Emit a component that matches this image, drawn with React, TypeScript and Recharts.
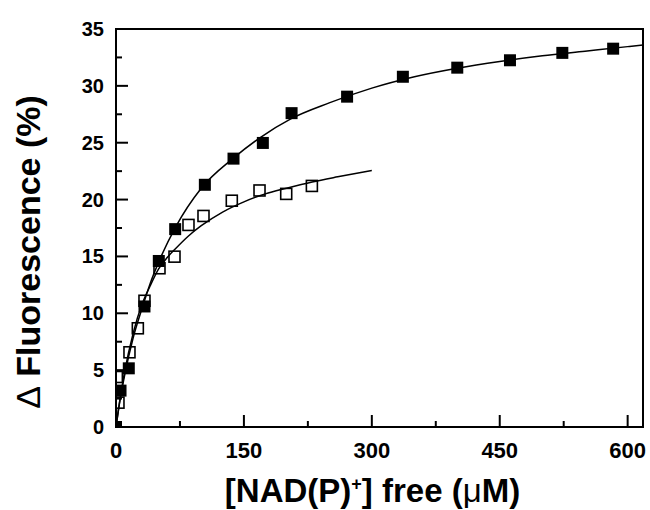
import React from 'react';
import { ComposedChart, Line, Scatter, XAxis, YAxis, ReferenceArea } from 'recharts';

// axis ticks
const xMajorTicks = [0, 150, 300, 450, 600];
const xMinorTicks = [75, 225, 375, 525];
const yMajorTicks = [0, 5, 10, 15, 20, 25, 30, 35];
const yMinorTicks = [2.5, 7.5, 12.5, 17.5, 22.5, 27.5, 32.5];

// filled squares (measured)
const filledX = [0, 5.3, 15, 33.4, 50.2, 69.4, 104.2, 137.8, 172.2, 205.9, 271, 336.4, 400.2, 462, 523.4, 583];
const filledY = [0, 3.2, 5.16, 10.6, 14.6, 17.4, 21.3, 23.6, 24.98, 27.6, 29.05, 30.8, 31.6, 32.25, 32.9, 33.27];

// open squares (measured)
const openX = [1, 2.9, 15.8, 25.6, 33.4, 51, 68.6, 85, 102.6, 135.8, 168.3, 199.6, 229.7];
const openY = [4.4, 2.14, 6.57, 8.68, 11.1, 13.96, 14.98, 17.77, 18.56, 19.9, 20.8, 20.5, 21.2];

// fitted curves
const filledFitX = [0, 5, 10, 20, 30, 40, 50, 70, 100, 137, 170, 205, 250, 300, 350, 400, 450, 500, 550, 600, 618];
const filledFitY = [0, 2.5, 4.5, 7.8, 10.3, 12.6, 14.5, 17.6, 21.0, 23.6, 25.5, 27.1, 28.5, 29.8, 30.8, 31.55, 32.15, 32.65, 33.05, 33.45, 33.6];
const openFitX = [0, 5, 10, 20, 30, 40, 50, 60, 70, 85, 100, 125, 150, 175, 200, 230, 260, 300];
const openFitY = [0, 2.6, 4.8, 8.2, 10.7, 12.4, 13.9, 14.9, 15.7, 16.8, 17.7, 18.9, 19.8, 20.5, 21.0, 21.55, 22.0, 22.55];

const toPoints = (xs: number[], ys: number[]) => xs.map((x, i) => ({ x, y: ys[i] }));

const filledPoints = toPoints(filledX, filledY);
const openPoints = toPoints(openX, openY);
const filledFit = toPoints(filledFitX, filledFitY);
const openFit = toPoints(openFitX, openFitY);

const FONT = '"Liberation Sans", Arial, Helvetica, sans-serif';

const FilledSquare = (props: any) => (
  <rect x={props.cx - 6} y={props.cy - 6} width={12} height={12} fill="#000" />
);

const OpenSquare = (props: any) => (
  <rect x={props.cx - 5.5} y={props.cy - 5.5} width={11} height={11} fill="none" stroke="#000" strokeWidth={1.6} />
);

const YTick = (props: any) => {
  const { x, y, payload } = props;
  const major = yMajorTicks.includes(payload.value);
  return (
    <g>
      <line x1={x} y1={y} x2={x + (major ? 12 : 6)} y2={y} stroke="#000" strokeWidth={2} />
      {major && (
        <text x={x - 12} y={y} dy="0.35em" textAnchor="end" fontFamily={FONT} fontWeight={700} fontSize={20} fill="#000">
          {payload.value}
        </text>
      )}
    </g>
  );
};

const XTick = (props: any) => {
  const { x, y, payload } = props;
  const major = xMajorTicks.includes(payload.value);
  return (
    <g>
      <line x1={x} y1={y} x2={x} y2={y - (major ? 12 : 6)} stroke="#000" strokeWidth={2} />
      {major && (
        <text x={x} y={y + 15} dy="0.72em" textAnchor="middle" fontFamily={FONT} fontWeight={700} fontSize={22} fill="#000">
          {payload.value}
        </text>
      )}
    </g>
  );
};

const XTitle = (props: any) => {
  const vb = props.viewBox;
  return (
    <text x={vb.x + vb.width / 2 - 7} y={vb.y + 75} textAnchor="middle" fontFamily={FONT} fontWeight={700} fontSize={33} fill="#000">
      [NAD(P)
      <tspan fontSize={18} dy={-12}>+</tspan>
      <tspan dy={12}>] free (</tspan>
      <tspan fontWeight={400}>μ</tspan>
      M)
    </text>
  );
};

const YTitle = (props: any) => {
  const vb = props.viewBox;
  const cx = 40;
  const cy = vb.y + vb.height / 2 + 24;
  return (
    <text x={cx} y={cy} transform={`rotate(-90, ${cx}, ${cy})`} textAnchor="middle" fontFamily={FONT} fontWeight={700} fontSize={34} fill="#000">
      <tspan fontWeight={400}>Δ</tspan> Fluorescence (%)
    </text>
  );
};

export default function App() {
  return (
    <div style={{ position: 'absolute', left: 0, top: 0, background: '#fff' }}>
      <ComposedChart width={650} height={510} margin={{ top: 29, right: 7, bottom: 0, left: 0 }}>
        <XAxis
          dataKey="x"
          type="number"
          domain={[0, 618]}
          allowDataOverflow
          ticks={[...xMajorTicks, ...xMinorTicks].sort((a, b) => a - b)}
          interval={0}
          tickSize={0}
          tickMargin={0}
          tickLine={false}
          tick={<XTick />}
          axisLine={{ stroke: '#000', strokeWidth: 2 }}
          height={83}
          label={<XTitle />}
        />
        <YAxis
          type="number"
          domain={[0, 35]}
          allowDataOverflow
          ticks={[...yMajorTicks, ...yMinorTicks].sort((a, b) => a - b)}
          interval={0}
          tickSize={0}
          tickMargin={0}
          tickLine={false}
          tick={<YTick />}
          axisLine={{ stroke: '#000', strokeWidth: 2 }}
          width={116}
          label={<YTitle />}
        />
        <ReferenceArea x1={0} x2={618} y1={0} y2={35} fill="none" stroke="#000" strokeWidth={2} />
        <Line data={filledFit} dataKey="y" type="monotone" stroke="#000" strokeWidth={1.5} dot={false} isAnimationActive={false} />
        <Line data={openFit} dataKey="y" type="monotone" stroke="#000" strokeWidth={1.5} dot={false} isAnimationActive={false} />
        <Scatter data={openPoints} dataKey="y" shape={<OpenSquare />} isAnimationActive={false} />
        <Scatter data={filledPoints} dataKey="y" shape={<FilledSquare />} isAnimationActive={false} />
      </ComposedChart>
    </div>
  );
}
